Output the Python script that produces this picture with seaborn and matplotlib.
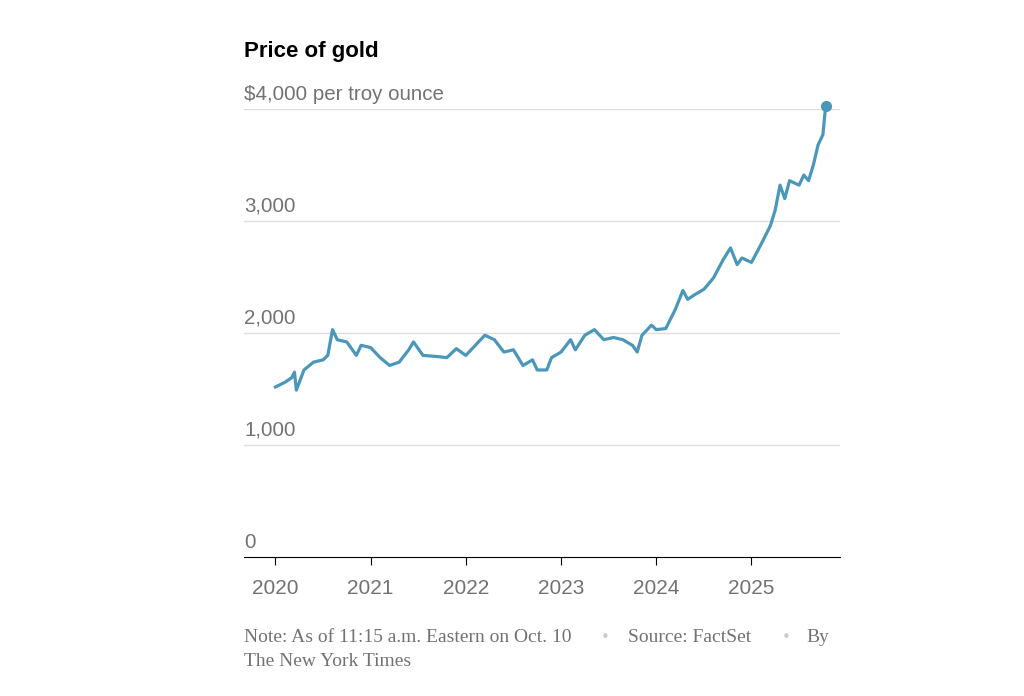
import numpy as np
import pandas as pd
import seaborn as sns
import matplotlib.pyplot as plt

# approximate gold price readings (year fraction, USD per troy ounce)
years = [2020.0, 2020.1, 2020.17, 2020.2, 2020.22, 2020.3, 2020.4, 2020.5, 2020.55, 2020.6,
         2020.65, 2020.75, 2020.85, 2020.9, 2021.0, 2021.1, 2021.2, 2021.3, 2021.4, 2021.45,
         2021.55, 2021.7, 2021.8, 2021.9, 2022.0, 2022.1, 2022.2, 2022.3, 2022.4, 2022.5,
         2022.6, 2022.7, 2022.75, 2022.85, 2022.9, 2023.0, 2023.1, 2023.15, 2023.25, 2023.35,
         2023.45, 2023.55, 2023.65, 2023.75, 2023.8, 2023.85, 2023.95, 2024.0, 2024.1, 2024.2,
         2024.28, 2024.33, 2024.4, 2024.5, 2024.6, 2024.7, 2024.78, 2024.85, 2024.9, 2025.0,
         2025.1, 2025.2, 2025.25, 2025.3, 2025.35, 2025.4, 2025.5, 2025.55, 2025.6, 2025.65,
         2025.7, 2025.75, 2025.78]
price = [1518, 1560, 1600, 1650, 1490, 1670, 1740, 1760, 1800, 2030,
         1940, 1920, 1800, 1890, 1870, 1780, 1710, 1740, 1850, 1920,
         1800, 1790, 1780, 1860, 1800, 1890, 1980, 1940, 1830, 1850,
         1710, 1760, 1670, 1670, 1780, 1830, 1940, 1850, 1980, 2030,
         1940, 1960, 1940, 1890, 1830, 1980, 2070, 2030, 2040, 2210,
         2380, 2300, 2340, 2390, 2490, 2650, 2760, 2610, 2670, 2630,
         2790, 2960, 3100, 3320, 3200, 3360, 3320, 3410, 3360, 3500,
         3680, 3770, 4030]
tick_years = [2020, 2021, 2022, 2023, 2024, 2025]
y_ticks = [0, 1000, 2000, 3000, 4000]
y_labels = ["0", "1,000", "2,000", "3,000", "$4,000 per troy ounce"]

df = pd.DataFrame({"year": years, "price": price})
blue = "#4a97b9"
grey = "#727272"

W, H = 1024, 696
fig = plt.figure(figsize=(W / 100, H / 100), dpi=100)
ax = fig.add_axes([244 / W, 1 - 557 / H, (840 - 244) / W, (557 - 109) / H])

sns.lineplot(data=df, x="year", y="price", color=blue, lw=2.3, ax=ax)
for ln in ax.lines:
    ln.set_clip_on(False)
ax.plot(years[-1], price[-1], "o", color=blue, ms=7, clip_on=False, zorder=5)

ax.set_xlim(2019.67, 2025.93)
ax.set_ylim(0, 4000)
for v, lab in zip(y_ticks, y_labels):
    if v > 0:
        ax.axhline(v, color="#dddddd", lw=1, zorder=0)
    ax.text(2019.67, v + 45, lab, fontsize=14.8, color=grey, family="Liberation Sans",
            va="bottom", ha="left")
ax.set_yticks([])
ax.set_xticks(tick_years)
ax.set_xticklabels([str(t) for t in tick_years], fontsize=15, color=grey, family="Liberation Sans")
ax.tick_params(axis="x", length=6, color="black", pad=10)
for s in ["top", "right", "left"]:
    ax.spines[s].set_visible(False)
ax.spines["bottom"].set_color("black")
ax.set_xlabel("")
ax.set_ylabel("")

fig.text(244 / W, 1 - 52 / H, "Price of gold", fontsize=16, weight="bold",
         family="Liberation Sans", va="center", ha="left")
foot = dict(fontsize=14, color=grey, family="Liberation Serif", va="center", ha="left")
fig.text(244 / W, 1 - 637 / H, "Note: As of 11:15 a.m. Eastern on Oct. 10", **foot)
fig.text(605 / W, 1 - 637 / H, "\u2022", fontsize=11, color="#cccccc", va="center", ha="center")
fig.text(628 / W, 1 - 637 / H, "Source: FactSet", **foot)
fig.text(786 / W, 1 - 637 / H, "\u2022", fontsize=11, color="#cccccc", va="center", ha="center")
fig.text(806 / W, 1 - 637 / H, "By", **foot)
fig.text(244 / W, 1 - 661 / H, "The New York Times", **foot)

fig.savefig("out.png", dpi=100)
